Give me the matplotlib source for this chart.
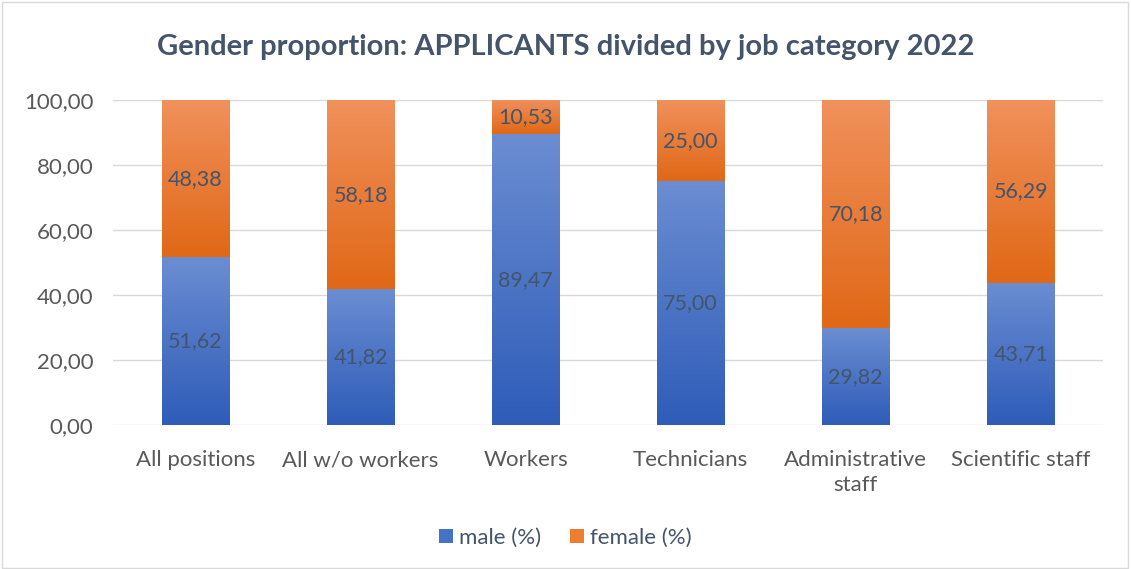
import matplotlib.pyplot as plt
import numpy as np
from matplotlib.colors import LinearSegmentedColormap
from matplotlib.patches import Rectangle

categories = ["All positions", "All w/o workers", "Workers", "Technicians",
              "Administrative\nstaff", "Scientific staff"]
male = [51.62, 41.82, 89.47, 75.00, 29.82, 43.71]
female = [48.38, 58.18, 10.53, 25.00, 70.18, 56.29]
yticks = [0, 20, 40, 60, 80, 100]

plt.rcParams["font.family"] = ["Lato", "DejaVu Sans"]
TEXT = "#44546a"
TICK = "#595959"

fig = plt.figure(figsize=(11.31, 5.69), dpi=100)
ax = fig.add_axes([0.0999, 0.253, 0.8755, 0.571])

x = np.arange(len(categories))
width = 0.41
b_male = ax.bar(x, male, width, color="#4472c4", label="male (%)", zorder=2)
b_fem = ax.bar(x, female, width, bottom=male, color="#ed7d31", label="female (%)", zorder=2)

# gradient fill like the Excel original: lighter at top, darker at bottom
grad = np.linspace(0, 1, 256).reshape(-1, 1)
cm_blue = LinearSegmentedColormap.from_list("b", ["#2e5cb8", "#6b8dd2"])
cm_orange = LinearSegmentedColormap.from_list("o", ["#e06816", "#f1915c"])
for bars, cmap in ((b_male, cm_blue), (b_fem, cm_orange)):
    for p in bars:
        x0, y0 = p.get_x(), p.get_y()
        w, h = p.get_width(), p.get_height()
        im = ax.imshow(grad, cmap=cmap, origin="lower", aspect="auto",
                       extent=(x0, x0 + w, y0, y0 + h), zorder=2)
        im.set_clip_path(p)
        p.set_facecolor("none")

for i in range(len(categories)):
    ax.text(x[i], male[i] / 2, f"{male[i]:.2f}".replace(".", ","),
            ha="center", va="center", fontsize=15.5, color=TEXT, zorder=3)
    ax.text(x[i], male[i] + female[i] / 2, f"{female[i]:.2f}".replace(".", ","),
            ha="center", va="center", fontsize=15.5, color=TEXT, zorder=3)

ax.set_xlim(-0.5, len(categories) - 0.5)
ax.set_ylim(0, 100)
ax.set_yticks(yticks)
ax.set_yticklabels([f"{v:.2f}".replace(".", ",") for v in yticks])
ax.set_xticks(x)
ax.set_xticklabels(categories, linespacing=1.3)
ax.tick_params(axis="both", length=0, labelsize=16, colors=TICK)
ax.tick_params(axis="y", pad=14)
ax.tick_params(axis="x", pad=18)
ax.grid(axis="y", color="#d9d9d9", lw=1, zorder=0)
ax.set_axisbelow(True)
for s in ax.spines.values():
    s.set_visible(False)

fig.suptitle("Gender proportion: APPLICANTS divided by job category 2022",
             x=0.5, y=0.94, fontsize=21, fontweight="bold", color=TEXT)

fig.legend(handles=[b_male, b_fem], labels=["male (%)", "female (%)"],
           loc="center", bbox_to_anchor=(0.5, 0.055), ncol=2, frameon=False,
           fontsize=16, handlelength=0.6, handleheight=0.6, handletextpad=0.3,
           columnspacing=1.3, labelcolor=TEXT)
# legend handles show the gradient's mid colours
leg = fig.legends[0]
for h, c in zip(leg.legend_handles, ["#4472c4", "#ed7d31"]):
    h.set_facecolor(c)

fig.add_artist(Rectangle((0.002, 0.002), 0.995, 0.995, transform=fig.transFigure,
                         fill=False, edgecolor="#d9d9d9", lw=1))

fig.savefig("out.png", dpi=100)
